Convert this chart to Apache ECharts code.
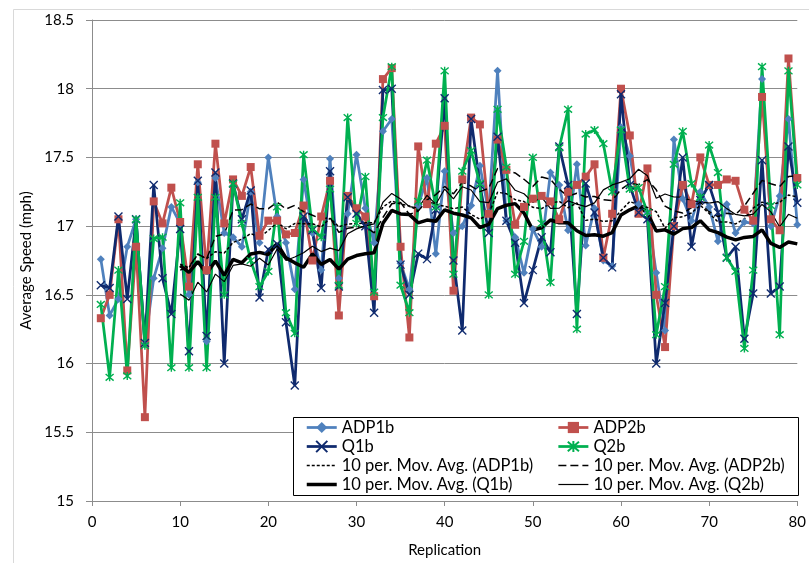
<!DOCTYPE html>
<html>
<head>
<meta charset="utf-8">
<script src="https://cdn.jsdelivr.net/npm/echarts@6/dist/echarts.min.js"></script>
<style>
  html, body { margin: 0; padding: 0; background: #fff; }
  #chart { width: 809px; height: 563px; }
</style>
</head>
<body>
<div id="chart"></div>
<script>
// Average speed (mph) per replication, runs 1..80
const adp1b = [16.76,16.35,16.47,16.85,17.05,16.14,16.62,16.84,17.14,17.02,
               16.50,17.32,16.16,17.35,16.95,16.92,16.85,17.25,16.88,17.50,
               17.07,16.88,16.54,17.34,16.95,16.68,17.49,16.62,17.09,17.52,
               17.13,16.88,17.69,17.78,16.73,16.54,17.15,17.35,16.80,17.40,
               16.95,17.00,17.15,17.44,17.10,18.13,17.04,16.92,16.66,16.98,
               16.85,17.39,17.30,16.97,17.45,16.86,17.13,16.75,16.71,17.72,
               17.51,17.16,17.10,16.66,16.24,17.63,17.20,17.04,17.25,17.14,
               16.89,17.16,16.95,17.03,17.02,18.07,17.00,17.22,17.78,17.01];
const adp2b = [16.33,16.50,17.05,15.95,16.85,15.61,17.18,17.02,17.28,17.03,
               16.56,17.45,16.68,17.60,17.02,17.34,17.22,17.43,16.93,17.04,
               17.04,16.94,16.95,17.15,16.75,17.07,17.33,16.35,17.22,17.13,
               17.07,16.49,18.07,18.15,16.85,16.19,17.58,17.16,17.60,17.73,
               16.53,17.34,17.79,17.74,17.09,17.63,17.41,17.01,17.14,17.20,
               17.22,17.18,17.05,17.25,17.30,17.36,17.45,16.77,17.09,18.00,
               17.66,17.09,17.42,16.50,16.12,17.00,17.30,17.16,17.50,17.30,
               17.30,17.34,17.33,17.12,17.04,17.94,17.05,16.97,18.22,17.35];
const q1b   = [16.57,16.55,17.07,16.47,17.05,16.15,17.30,16.62,16.36,16.98,
               16.09,17.33,16.20,17.39,16.00,17.31,17.05,17.26,16.48,16.83,
               16.87,16.30,15.84,17.07,16.97,16.55,17.40,16.56,17.21,17.09,
               17.00,16.37,17.99,18.00,16.72,16.50,16.80,16.76,17.12,17.93,
               16.75,16.24,17.78,17.30,16.95,17.65,17.04,16.88,16.44,16.68,
               16.92,16.81,17.58,17.30,16.36,17.31,17.10,16.77,16.70,17.96,
               17.30,17.10,17.05,16.00,16.44,17.00,17.50,16.85,17.19,17.30,
               17.10,16.77,16.85,16.18,16.51,17.48,16.51,16.56,17.58,17.17];
const q2b   = [16.43,15.90,16.68,15.91,17.05,16.13,16.91,16.92,15.97,17.17,
               15.97,17.21,15.97,17.21,16.50,17.31,17.02,16.75,16.56,16.67,
               17.14,16.37,16.22,17.52,16.98,16.92,17.27,16.57,17.79,17.02,
               17.36,16.52,17.79,18.16,16.57,16.37,17.18,17.48,17.14,18.13,
               16.65,17.40,17.55,17.31,16.50,17.85,17.43,16.65,16.89,17.50,
               17.02,16.59,17.57,17.85,16.25,17.67,17.70,17.60,17.25,17.70,
               17.27,17.28,17.10,16.21,16.56,17.45,17.69,17.31,17.21,17.59,
               17.39,16.77,16.67,16.11,16.68,18.16,17.15,16.21,18.13,17.30];

const seriesNames = ['ADP1b', 'ADP2b', 'Q1b', 'Q2b'];
const maPeriod = 10;

const FONT = 'Lato, "Open Sans", sans-serif';

// pair each value with its replication number
function points(values) {
  return values.map((v, i) => [i + 1, v]);
}

// trailing moving average over `period` replications
function movingAverage(values, period) {
  const out = [];
  for (let i = period - 1; i < values.length; i++) {
    let s = 0;
    for (let k = i - period + 1; k <= i; k++) s += values[k];
    out.push([i + 1, s / period]);
  }
  return out;
}

const X_PATH = 'path://M0,0L10,10M10,0L0,10';
const STAR_PATH = 'path://M0,0L10,10M10,0L0,10M5,-1L5,11';

const MAIN_W = 2.75;
const mainLine = (name, data, color, symbol, size, hollowStroke) => ({
  name,
  type: 'line',
  data: points(data),
  symbol,
  symbolSize: size,
  showSymbol: true,
  lineStyle: { color, width: MAIN_W },
  itemStyle: hollowStroke
    ? { color: 'rgba(0,0,0,0)', borderColor: color, borderWidth: 1.4 }
    : { color, borderColor: color, borderWidth: 0 },
  emphasis: { disabled: true },
  animation: false
});

// trend line styles: [width, dash]
const maStyles = [[1.5, [3, 2]], [1.5, [8, 4]], [3.5, 'solid'], [1.2, 'solid']];

const maLine = (name, data, style) => ({
  name,
  type: 'line',
  data: movingAverage(data, maPeriod),
  symbol: 'none',
  lineStyle: { color: '#000', width: style[0], type: style[1] },
  // no point marks on trend lines (also keeps the legend key line-only)
  itemStyle: { color: 'rgba(0,0,0,0)', borderColor: 'rgba(0,0,0,0)', borderWidth: 0, opacity: 0 },
  emphasis: { disabled: true },
  animation: false
});

const maNames = seriesNames.map(n => '10 per. Mov. Avg. (' + n + ')');

const mainKey = i => ({ name: seriesNames[i], lineStyle: { width: MAIN_W } });
const maKey = i => ({ name: maNames[i], lineStyle: { width: maStyles[i][0], type: maStyles[i][1], color: '#000' } });

const chart = echarts.init(document.getElementById('chart'), null, { renderer: 'canvas' });

const legendCommon = {
  orient: 'vertical',
  itemWidth: 30,
  itemHeight: 14,
  itemGap: 2,
  padding: 0,
  textStyle: { fontFamily: FONT, fontSize: 16.5, color: '#000' },
  z: 10,
  selectedMode: false
};

chart.setOption({
  animation: false,
  backgroundColor: '#fff',
  grid: { left: 92, right: 10, top: 20, bottom: 55, containLabel: false },
  xAxis: {
    type: 'value',
    min: 0, max: 80, interval: 10,
    name: 'Replication',
    nameLocation: 'middle',
    nameGap: 42,
    nameTextStyle: { fontFamily: FONT, fontSize: 15, color: '#000' },
    axisLine: { show: true, lineStyle: { color: '#8c8c8c', width: 1 } },
    axisTick: { show: true, length: 5, lineStyle: { color: '#8c8c8c' } },
    axisLabel: { fontFamily: FONT, fontSize: 15, color: '#000', margin: 14 },
    splitLine: { show: false }
  },
  yAxis: {
    type: 'value',
    min: 15, max: 18.5, interval: 0.5,
    name: 'Average Speed (mph)',
    nameLocation: 'middle',
    nameGap: 56,
    nameTextStyle: { fontFamily: FONT, fontSize: 15, color: '#000' },
    axisLine: { show: true, lineStyle: { color: '#8c8c8c', width: 1 } },
    axisTick: { show: true, length: 6, lineStyle: { color: '#8c8c8c' } },
    axisLabel: { fontFamily: FONT, fontSize: 15, color: '#000', margin: 18 },
    splitLine: { show: true, lineStyle: { color: '#8c8c8c', width: 1 } }
  },
  legend: [
    Object.assign({}, legendCommon, {
      left: 305, top: 419,
      data: [mainKey(0), mainKey(2), maKey(0), maKey(2)]
    }),
    Object.assign({}, legendCommon, {
      left: 557, top: 419,
      data: [mainKey(1), mainKey(3), maKey(1), maKey(3)]
    })
  ],
  graphic: [
    {
      type: 'rect',
      shape: { x: 13.5, y: 9.5, width: 900, height: 700 },
      style: { fill: 'none', stroke: '#d9d9d9', lineWidth: 1 },
      silent: true, z: 0
    },
    {
      type: 'rect',
      shape: { x: 293.5, y: 417.5, width: 505, height: 78 },
      style: { fill: '#fff', stroke: '#000', lineWidth: 1 },
      silent: true, z: 5
    }
  ],
  series: [
    mainLine(seriesNames[0], adp1b, '#4f81bd', 'diamond', 8, false),
    mainLine(seriesNames[1], adp2b, '#c0504d', 'rect', 8, false),
    mainLine(seriesNames[2], q1b, '#0f2a6e', X_PATH, 8, true),
    mainLine(seriesNames[3], q2b, '#00b050', STAR_PATH, 8, true),
    maLine(maNames[0], adp1b, maStyles[0]),
    maLine(maNames[1], adp2b, maStyles[1]),
    maLine(maNames[2], q1b, maStyles[2]),
    maLine(maNames[3], q2b, maStyles[3])
  ]
});
</script>
</body>
</html>
